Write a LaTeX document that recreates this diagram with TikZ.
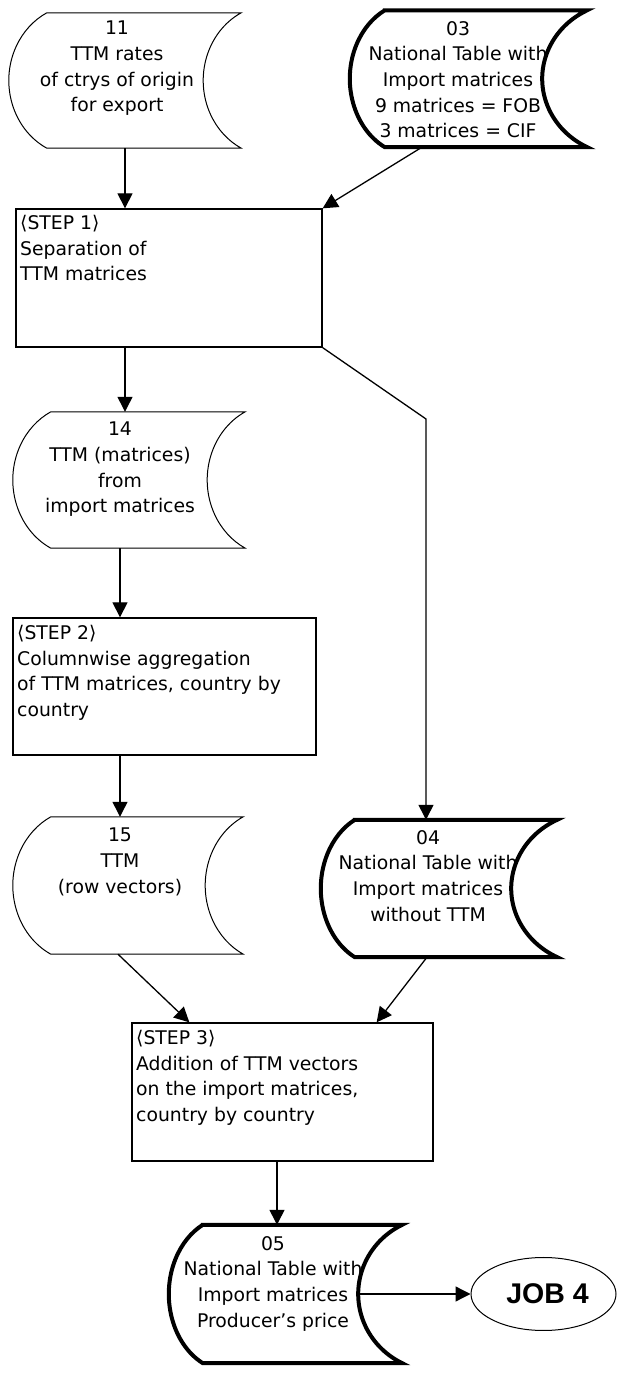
\documentclass[tikz,border=0pt]{standalone}
\usepackage{fontspec}
\setmainfont{DejaVu Sans}
\newfontfamily\jobfont{Liberation Sans}
\usetikzlibrary{arrows.meta,calc,shapes.geometric}
\newcommand\storedpath[3]{%
 let \p1=(#1.north west), \p2=(#1.south east), \n1={(\y1-\y2)/2/0.8934} in
 (\x1+#2,\y1) -- (\x2,\y1)
 arc[start angle=116.7,end angle=243.3,x radius=#3/0.5508,y radius=\n1]
 -- (\x1+#2,\y2)
 arc[start angle=243.3,end angle=116.7,x radius=#2/0.5508,y radius=\n1] -- cycle}
\tikzset{
 holder/.style={rectangle,draw=none,inner sep=0pt},
 stxt/.style={anchor=north,inner sep=0pt,align=center,font=\fontsize{18.8}{25.7}\selectfont},
 btxt/.style={anchor=north west,inner sep=0pt,align=left,font=\fontsize{18.8}{25.7}\selectfont},
 stepbox/.style={rectangle,draw,line width=1.3pt,inner sep=0pt},
 thinline/.style={line width=1pt},
 thickline/.style={line width=4pt},
 arr/.style={line width=1.3pt,-{Triangle[length=15pt,width=15pt]}},
 conn/.style={line width=1.3pt}
}
\begin{document}
\begin{tikzpicture}[x=1pt,y=1pt]
\useasboundingbox (0,0) rectangle (620,1373);
% holders for stored-data symbols
\node[holder,minimum width=232pt,minimum height=135pt] (n11) at (125,1292.5) {};
\node[holder,minimum width=237pt,minimum height=136.5pt] (n03) at (468.5,1294.25) {};
\node[holder,minimum width=232pt,minimum height=136pt] (n14) at (129,893) {};
\node[holder,minimum width=230pt,minimum height=137pt] (n15) at (128,487.5) {};
\node[holder,minimum width=236pt,minimum height=137pt] (n04) at (439,484.5) {};
\node[holder,minimum width=233pt,minimum height=138pt] (n05) at (285.5,79) {};
% step boxes
\node[stepbox,minimum width=306pt,minimum height=138pt] (s1) at (169,1095) {};
\node[stepbox,minimum width=303pt,minimum height=137pt] (s2) at (164.5,686.5) {};
\node[stepbox,minimum width=301pt,minimum height=138pt] (s3) at (282.5,281) {};
\node[btxt] (u1) at (20,1158) {⟨STEP 1⟩\\Separation of\\TTM matrices};
\node[btxt] (u2) at (17,748) {⟨STEP 2⟩\\Columnwise aggregation\\of TTM matrices, country by\\country};
\node[btxt] (u3) at (136,343) {⟨STEP 3⟩\\Addition of TTM vectors\\on the import matrices,\\country by country};
% stored data texts (clipped) and outlines
\begin{scope}\path[clip] \storedpath{n11}{38pt}{38pt};
\node[stxt] (t11) at (117,1352) {11\\TTM rates\\of ctrys of origin\\for export};\end{scope}
\draw[thinline] \storedpath{n11}{38pt}{38pt};
\begin{scope}\path[clip] \storedpath{n03}{35pt}{45pt};
\node[stxt] (t03) at (458,1352) {03\\National Table with\\Import matrices\\9 matrices = FOB\\3 matrices = CIF};\end{scope}
\draw[thickline] \storedpath{n03}{35pt}{45pt};
\begin{scope}\path[clip] \storedpath{n14}{38pt}{38pt};
\node[stxt] (t14) at (120,951) {14\\TTM (matrices)\\from\\import matrices};\end{scope}
\draw[thinline] \storedpath{n14}{38pt}{38pt};
\begin{scope}\path[clip] \storedpath{n15}{38pt}{38pt};
\node[stxt] (t15) at (120,545) {15\\TTM\\(row vectors)};\end{scope}
\draw[thinline] \storedpath{n15}{38pt}{38pt};
\begin{scope}\path[clip] \storedpath{n04}{34pt}{46pt};
\node[stxt] (t04) at (428,543) {04\\National Table with\\Import matrices\\without TTM};\end{scope}
\draw[thickline] \storedpath{n04}{34pt}{46pt};
\begin{scope}\path[clip] \storedpath{n05}{34pt}{44pt};
\node[stxt] (t05) at (273,137) {05\\National Table with\\Import matrices\\Producer’s price};\end{scope}
\draw[thickline] \storedpath{n05}{34pt}{44pt};
% job
\node[ellipse,draw,line width=1pt,minimum width=145pt,minimum height=73pt,inner sep=0pt,font=\jobfont\bfseries\fontsize{28.5}{30}\selectfont] (job) at (543.5,79) {\hspace*{8pt}JOB 4};
% connectors
\coordinate (b1) at (426,954);
\draw[arr] (n11.south) -- (n11.south |- s1.north);
\draw[arr] ($(n03.south west)!0.304!(n03.south east)$) -- (s1.north east);
\draw[arr] ([xshift=-4pt]n14.north |- s1.south) -- ([xshift=-4pt]n14.north);
\draw[arr] (s1.south east) -- (b1) -- (b1 |- n04.north);
\draw[arr] ([xshift=-9pt]n14.south) -- ([xshift=-9pt]n14.south |- s2.north);
\draw[arr] ([xshift=-8pt]n15.north |- s2.south) -- ([xshift=-8pt]n15.north);
\draw[arr] ([xshift=-10pt]n15.south) -- ([xshift=58pt]s3.north west);
\draw[arr] ([xshift=-12pt]n04.south) -- ([xshift=-57pt]s3.north east);
\draw[arr] ([xshift=-5.5pt]s3.south) -- ([xshift=-5.5pt]s3.south |- n05.north);
\draw[arr] ([xshift=-43pt]n05.east) -- (job.west);
\end{tikzpicture}
\end{document}
